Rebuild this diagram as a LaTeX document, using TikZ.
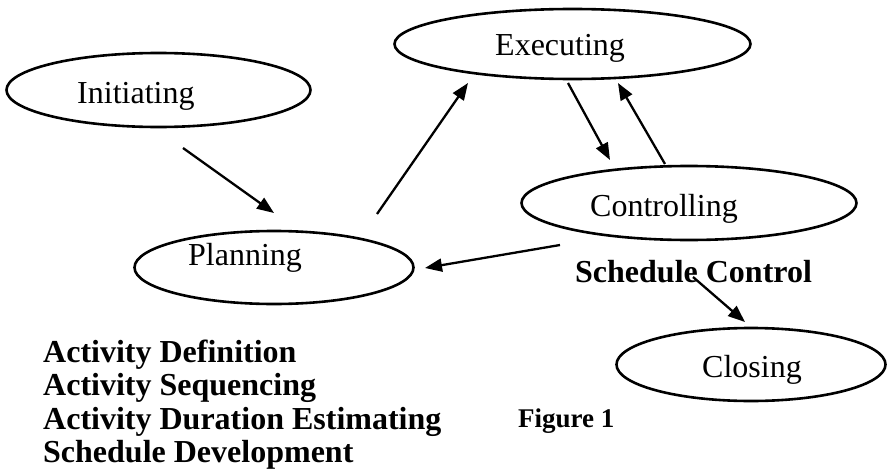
\documentclass[tikz,border=0pt]{standalone}
\usepackage{fontspec}
\setmainfont{Liberation Serif}
\usetikzlibrary{arrows.meta,shapes.geometric}
\begin{document}
\begin{tikzpicture}[x=1pt,y=-1pt,
  phase/.style={draw=black, line width=2.6pt, ellipse, inner sep=0pt},
  phasetext/.style={anchor=base west, inner sep=0pt, font=\fontsize{32}{36}\selectfont},
  boldtext/.style={anchor=base west, inner sep=0pt, font=\fontsize{32}{36}\selectfont\bfseries},
  conn/.style={line width=2.3pt, -{Triangle[length=17pt,width=13pt]}}]
\useasboundingbox (0,0) rectangle (889,471);
% ellipses
\node[phase, minimum width=304pt, minimum height=74pt] (init) at (158.5,90) {};
\node[phase, minimum width=356pt, minimum height=70pt] (exec) at (572.5,44) {};
\node[phase, minimum width=335pt, minimum height=74pt] (ctrl) at (689,203) {};
\node[phase, minimum width=279pt, minimum height=73pt] (plan) at (274,267.5) {};
\node[phase, minimum width=269pt, minimum height=73pt] (clos) at (751,364.5) {};
% phase labels
\node[phasetext] (initT) at (77,103) {Initiating};
\node[phasetext] (execT) at (495,55) {Executing};
\node[phasetext] (ctrlT) at (590,216) {Controlling};
\node[phasetext] (planT) at (188,265) {Planning};
\node[phasetext] (closT) at (702,377) {Closing};
% bold texts
\node[boldtext] (sched) at (575,282) {Schedule Control};
\node[boldtext] (list1) at (43,362) {Activity Definition};
\node[boldtext] (list2) at (43,395.5) {Activity Sequencing};
\node[boldtext] (list3) at (43,429) {Activity Duration Estimating};
\node[boldtext] (list4) at (43,462.5) {Schedule Development};
\node[anchor=base west, inner sep=0pt, font=\fontsize{27}{30}\selectfont\bfseries] (fig) at (518,427) {Figure 1};
% connector ends
\coordinate (a1s) at (183,148); \coordinate (a1e) at (274,213);
\coordinate (a2s) at (377,214); \coordinate (a2e) at (468,83);
\coordinate (a3s) at (568,83);  \coordinate (a3e) at (610,160);
\coordinate (a4s) at (665,164); \coordinate (a4e) at (618,83);
\coordinate (a5s) at (560,245); \coordinate (a5e) at (425,268);
\coordinate (a6s) at (693,277); \coordinate (a6e) at (745,322);
\draw[conn] (a1s) -- (a1e);
\draw[conn] (a2s) -- (a2e);
\draw[conn] (a3s) -- (a3e);
\draw[conn] (a4s) -- (a4e);
\draw[conn] (a5s) -- (a5e);
\draw[conn] (a6s) -- (a6e);
\end{tikzpicture}
\end{document}
